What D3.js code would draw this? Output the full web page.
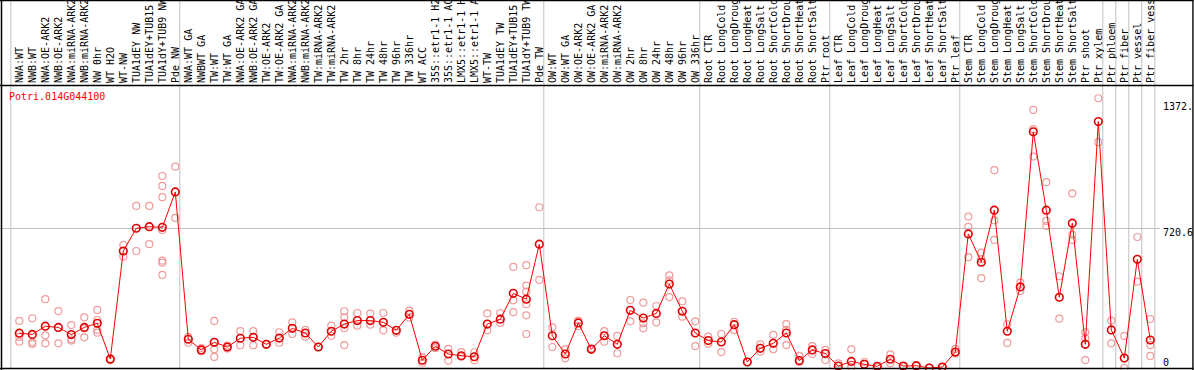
<!DOCTYPE html>
<html>
<head>
<meta charset="utf-8">
<script src="https://cdn.jsdelivr.net/npm/d3@7"></script>
<style>
	body { margin: 0; background: #fff; }
	svg { display: block; font-family: "DejaVu Sans Mono", monospace; }
</style>
</head>
<body>
<div id="chart"></div>
<script>

const geneName = 'Potri.014G044100';

const categories = [
	'NWA:WT', 'NWB:WT', 'NWA:OE-ARK2', 'NWB:OE-ARK2', 'NWA:miRNA-ARK2', 'NWB:miRNA-ARK2',
	'NW 0hr', 'WT H2O', 'WT-NW', 'TUA1dEY NW', 'TUA1dEY+TUB15', 'TUA1dY+TUB9 NW', 'Pde NW',
	'NWA:WT GA', 'NWBWT GA', 'TW:WT', 'TW:WT GA', 'NWA:OE-ARK2 GA', 'NWB:OE-ARK2 GA',
	'TW:OE-ARK2', 'TW:OE-ARK2 GA', 'NWA:miRNA-ARK2', 'NWB:miRNA-ARK2', 'TW:miRNA-ARK2',
	'TW:miRNA-ARK2', 'TW 2hr', 'TW 8hr', 'TW 24hr', 'TW 48hr', 'TW 96hr', 'TW 336hr',
	'WT ACC', '35S::etr1-1 H2O', '35S::etr1-1 ACC', 'LMX5::etr1-1 H2O', 'LMX5::etr1-1 ACC',
	'WT-TW', 'TUA1dEY TW', 'TUA1dEY+TUB15', 'TUA1dY+TUB9 TW', 'Pde TW',
	'OW:WT', 'OW:WT GA', 'OW:OE-ARK2', 'OW:OE-ARK2 GA', 'OW:miRNA-ARK2', 'OW:miRNA-ARK2',
	'OW 2hr', 'OW 8hr', 'OW 24hr', 'OW 48hr', 'OW 96hr', 'OW 336hr',
	'Root CTR', 'Root LongCold', 'Root LongDrought', 'Root LongHeat', 'Root LongSalt',
	'Root ShortCold', 'Root ShortDrought', 'Root ShortHeat', 'Root ShortSalt', 'Ptr root',
	'Leaf CTR', 'Leaf LongCold', 'Leaf LongDrought', 'Leaf LongHeat', 'Leaf LongSalt',
	'Leaf ShortCold', 'Leaf ShortDrought', 'Leaf ShortHeat', 'Leaf ShortSalt', 'Ptr leaf',
	'Stem CTR', 'Stem LongCold', 'Stem LongDrought', 'Stem LongHeat', 'Stem LongSalt',
	'Stem ShortCold', 'Stem ShortDrought', 'Stem ShortHeat', 'Stem ShortSalt', 'Ptr shoot',
	'Ptr xylem', 'Ptr phloem', 'Ptr fiber', 'Ptr vessel', 'Ptr fiber vessel'
];

const means = [
	179, 173, 215, 209, 172, 209, 230, 46, 602, 719, 727, 724, 906,
	148, 93, 132, 108, 153, 158, 122, 154, 204, 180, 108, 189, 226, 244, 244, 235, 194, 276,
	40, 112, 72, 63, 58, 226, 251, 384, 354, 637,
	166, 72, 232, 96, 166, 122, 297, 257, 281, 432, 292, 180,
	141, 134, 223, 31, 101, 127, 180, 38, 93, 74,
	10, 34, 19, 9, 45, 10, 12, 0, 5, 82,
	690, 544, 812, 189, 417, 1215, 812, 364, 745, 122,
	1268, 196, 51, 559, 144
];

const replicates = [
	[242, 160, 135], [256, 132, 124], [354, 168, 127], [293, 127], [221, 148, 141],
	[261, 158, 204], [299, 247, 182, 196], [46, 40], [633, 573], [834, 602], [834, 637],
	[988, 937, 879, 710, 552, 542, 479], [1036, 772],
	[130, 160], [103, 85], [242, 96, 57], [115, 100], [190, 117], [190, 117], [122],
	[184, 130], [235, 175], [196, 161], [108], [218, 166], [292, 261, 118, 205], [283, 218],
	[280, 223], [283, 194], [182], [295, 259],
	[55, 27], [121, 102], [98, 38], [82, 58], [81, 40], [281, 194], [283, 232],
	[520, 348, 287], [529, 424, 393, 328, 271, 175], [827, 453],
	[209, 108], [96, 50], [244, 215], [101], [190, 135], [165, 76], [350, 240],
	[336, 230, 204], [319, 235], [477, 451, 365], [343, 264], [240, 113],
	[161, 125], [175, 82], [238, 196], [31], [122, 84], [170, 96], [226, 118, 196],
	[62, 31], [113, 72], [93, 41],
	[24], [96, 4], [31], [5], [70, 24], [8], [10], [2], [3], [98, 74],
	[779, 726, 570], [594, 462, 560], [1018, 760, 659], [225, 129], [439, 396],
	[1328, 1229, 1088], [956, 757, 731], [472, 254], [899, 685, 659], [184, 153, 41],
	[1388, 1162], [244, 127], [165, 0], [674, 444], [252, 118, 62]
];

// column index after which a grey separator is drawn
const groupBreaks = [0, 13, 41, 53, 63, 73, 84, 85, 86, 87, 88];

const yTicks = [0, 720.6, 1372.1];

class ExpressionChart {

	constructor(element) {
		this.element = element;
		this.draw();
	}

	draw() {
		this.width = 1194;
		this.height = 370;
		this.headerBottom = 85;
		this.plotLeft = 10.8;
		this.plotRight = 1154.8;
		this.plotBottom = 368;

		this.createSVG();
		this.createScales();
		this.createGrid();
		this.createHeader();
		this.createMarks();
		this.createAxis();
		this.createFrame();
	}

	createSVG() {
		this.svg = d3.select(this.element)
			.append('svg')
				.attr('width', this.width)
				.attr('height', this.height);
	}

	createScales() {
		this.xScale = d3.scaleBand()
			.domain(d3.range(categories.length))
			.range([this.plotLeft, this.plotRight])
			.padding(0);

		this.yScale = d3.scaleLinear()
			.domain([0, 1451])
			.range([this.plotBottom, 86]);

		this.px = i => this.xScale(i) + 8.5;
	}

	createGrid() {
		const bw = this.xScale.bandwidth();

		this.svg.append('g')
			.selectAll('line')
			.data(groupBreaks)
			.join('line')
				.attr('x1', d => this.plotLeft + d * bw)
				.attr('x2', d => this.plotLeft + d * bw)
				.attr('y1', 0)
				.attr('y2', this.plotBottom)
				.attr('stroke', '#c0c0c0')
				.attr('stroke-width', 1);

		this.svg.append('line')
			.attr('x1', 0)
			.attr('x2', 1160)
			.attr('y1', Math.round(this.yScale(720.6)) + 0.5)
			.attr('y2', Math.round(this.yScale(720.6)) + 0.5)
			.attr('stroke', '#c0c0c0');
	}

	createHeader() {
		this.svg.append('g')
			.selectAll('text')
			.data(categories)
			.join('text')
				.attr('transform', (d, i) => `translate(${this.px(i) + 3.5}, 83) rotate(-90)`)
				.attr('font-size', 10)
				.attr('fill', '#000')
				.text(d => d);

		this.svg.append('text')
			.attr('x', 9)
			.attr('y', 100)
			.attr('font-size', 10)
			.attr('fill', '#ff0000')
			.text(geneName);
	}

	createMarks() {
		const reps = [];
		replicates.forEach((arr, i) => arr.forEach(v => reps.push({ i, v })));

		this.svg.append('g')
			.selectAll('circle')
			.data(reps)
			.join('circle')
				.attr('cx', d => this.px(d.i))
				.attr('cy', d => this.yScale(d.v))
				.attr('r', 3.5)
				.attr('fill', 'none')
				.attr('stroke', '#f09a9a')
				.attr('stroke-width', 1.2);

		const line = d3.line()
			.x((d, i) => this.px(i))
			.y(d => this.yScale(d));

		this.svg.append('path')
			.datum(means)
			.attr('d', line)
			.attr('fill', 'none')
			.attr('stroke', '#ff0000')
			.attr('stroke-width', 1);

		this.svg.append('g')
			.selectAll('circle')
			.data(means)
			.join('circle')
				.attr('cx', (d, i) => this.px(i))
				.attr('cy', d => this.yScale(d))
				.attr('r', 3.8)
				.attr('fill', 'none')
				.attr('stroke', '#e00000')
				.attr('stroke-width', 1.6);
	}

	createAxis() {
		this.yAxis = d3.axisRight(this.yScale)
			.tickValues(yTicks)
			.tickSize(0)
			.tickPadding(0)
			.tickFormat(d => d);

		const g = this.svg.append('g')
			.attr('transform', 'translate(1163, 0)')
			.call(this.yAxis);

		g.select('.domain').remove();
		g.selectAll('text')
			.attr('font-family', '"DejaVu Sans Mono", monospace')
			.attr('font-size', 10)
			.attr('fill', '#000')
			.attr('dy', d => d === 0 ? '-0.3em' : '0.8em');
	}

	createFrame() {
		const f = this.svg.append('g')
			.attr('stroke', '#000')
			.attr('stroke-width', 1.5);

		f.append('line').attr('x1', 0).attr('x2', this.width).attr('y1', 0.5).attr('y2', 0.5);
		f.append('line').attr('x1', 0).attr('x2', this.width)
			.attr('y1', this.headerBottom + 0.5).attr('y2', this.headerBottom + 0.5);
		f.append('line').attr('x1', 0).attr('x2', this.width)
			.attr('y1', this.plotBottom + 0.5).attr('y2', this.plotBottom + 0.5);
		f.append('line').attr('x1', 1.5).attr('x2', 1.5).attr('y1', 0).attr('y2', this.height);
		f.append('line').attr('x1', 1193).attr('x2', 1193).attr('y1', 0).attr('y2', this.height);

		this.svg.append('rect')
			.attr('x', 1193.8).attr('y', 0).attr('width', 2).attr('height', this.height)
			.attr('fill', '#fff');
	}

}

new ExpressionChart('#chart');

</script>
</body>
</html>
